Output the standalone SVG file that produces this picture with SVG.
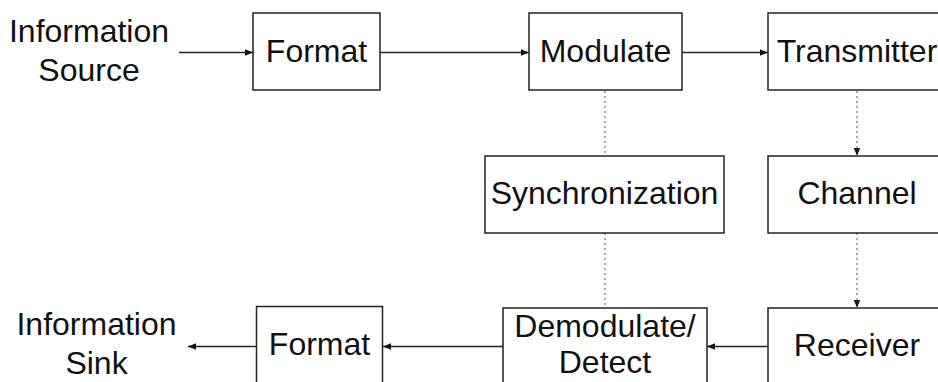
<svg xmlns="http://www.w3.org/2000/svg" width="938" height="382" viewBox="0 0 938 382">
  <style>
    .box { fill: #ffffff; stroke: #222222; stroke-width: 1.5; }
    .lbl { font-family: "Liberation Sans", Arial, sans-serif; font-size: 32px; fill: #111111; text-anchor: middle; }
    .flow { fill: none; stroke: #222222; stroke-width: 1.4; }
    .sync { fill: none; stroke: #555555; stroke-width: 1; stroke-dasharray: 2 3; }
  </style>
  <defs>
    <marker id="head" viewBox="0 0 10 10" refX="10" refY="5" markerWidth="8" markerHeight="8" markerUnits="userSpaceOnUse" orient="auto">
      <path d="M0,1 L10,5 L0,9 Z" fill="#111111"/>
    </marker>
  </defs>

  <rect width="938" height="382" fill="#ffffff"/>

  <!-- connectors -->
  <g id="connectors">
    <line class="flow" x1="179" y1="52.5" x2="253" y2="52.5" marker-end="url(#head)"/>
    <line class="flow" x1="380" y1="52.5" x2="529" y2="52.5" marker-end="url(#head)"/>
    <line class="flow" x1="682" y1="52.5" x2="768" y2="52.5" marker-end="url(#head)"/>
    <line class="sync" x1="605" y1="91" x2="605" y2="156"/>
    <line class="sync" x1="605" y1="233" x2="605" y2="308"/>
    <line class="sync" x1="857" y1="91" x2="857" y2="156" marker-end="url(#head)"/>
    <line class="sync" x1="857" y1="233" x2="857" y2="308" marker-end="url(#head)"/>
    <line class="flow" x1="768" y1="346.5" x2="707" y2="346.5" marker-end="url(#head)"/>
    <line class="flow" x1="503" y1="346.5" x2="383" y2="346.5" marker-end="url(#head)"/>
    <line class="flow" x1="256" y1="346.5" x2="188" y2="346.5" marker-end="url(#head)"/>
  </g>

  <!-- endpoints -->
  <g id="source">
    <text class="lbl" x="89" y="41.5">Information</text>
    <text class="lbl" x="89" y="81">Source</text>
  </g>
  <g id="sink">
    <text class="lbl" x="96.5" y="335">Information</text>
    <text class="lbl" x="96.5" y="374">Sink</text>
  </g>

  <!-- transmit chain -->
  <g id="format-tx">
    <rect class="box" x="253" y="13" width="127" height="77"/>
    <text class="lbl" x="316.5" y="62">Format</text>
  </g>
  <g id="modulate">
    <rect class="box" x="529" y="13" width="153" height="77"/>
    <text class="lbl" x="605.5" y="62">Modulate</text>
  </g>
  <g id="transmitter">
    <rect class="box" x="768" y="13" width="178" height="77"/>
    <text class="lbl" x="857" y="62">Transmitter</text>
  </g>

  <!-- middle row -->
  <g id="synchronization">
    <rect class="box" x="485" y="156" width="239" height="77"/>
    <text class="lbl" x="604.5" y="204">Synchronization</text>
  </g>
  <g id="channel">
    <rect class="box" x="768" y="156" width="178" height="77"/>
    <text class="lbl" x="857" y="204">Channel</text>
  </g>

  <!-- receive chain -->
  <g id="receiver">
    <rect class="box" x="768" y="308" width="178" height="90"/>
    <text class="lbl" x="857" y="356">Receiver</text>
  </g>
  <g id="demodulate">
    <rect class="box" x="503" y="308" width="204" height="90"/>
    <text class="lbl" x="605" y="336.5">Demodulate/</text>
    <text class="lbl" x="605" y="373">Detect</text>
  </g>
  <g id="format-rx">
    <rect class="box" x="256.5" y="306.5" width="126" height="90"/>
    <text class="lbl" x="319.5" y="355">Format</text>
  </g>
</svg>
